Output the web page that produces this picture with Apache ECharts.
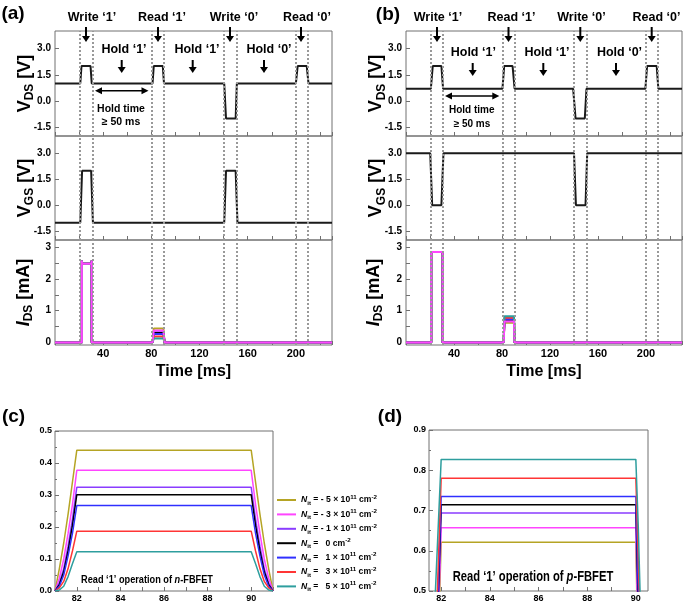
<!DOCTYPE html>
<html><head><meta charset="utf-8">
<script src="https://cdn.jsdelivr.net/npm/echarts@6/dist/echarts.min.js"></script>
<style>html,body{margin:0;padding:0;background:#fff}#c{width:685px;height:603px}</style>
</head><body><div id="c"></div>
<script>
// ---------------- data ----------------
const timeLabels = [40, 80, 120, 160, 200];
const dottedTimes = [20.5, 31, 80.5, 90.5, 140, 150.5, 199.5, 210];

const vdsA_t = [0, 21, 22, 29.5, 30.5, 81, 82, 89.5, 90.5, 140.5, 142, 150, 151, 200, 201.5, 209, 210.5, 230];
const vdsA_v = [1, 1, 2, 2, 1, 1, 2, 2, 1, 1, -1, -1, 1, 1, 2, 2, 1, 1];
const vgsA_t = [0, 21, 22.5, 30, 31.5, 140.5, 142, 150, 151.5, 230];
const vgsA_v = [-1, -1, 2, 2, -1, -1, 2, 2, -1, -1];

const vdsB_t = [0, 20.7, 22.3, 29.5, 30.9, 80.4, 81.8, 88.8, 90.5, 139.3, 141.3, 149, 150.4, 199.5, 200.9, 208.9, 210.3, 230];
const vdsB_v = [0.7, 0.7, 2, 2, 0.7, 0.7, 2, 2, 0.7, 0.7, -1, -1, 0.7, 0.7, 2, 2, 0.7, 0.7];
const vgsB_t = [0, 20.2, 21.8, 29.5, 31.2, 140, 141.6, 149.6, 151, 230];
const vgsB_v = [3, 3, 0, 0, 3, 3, 0, 0, 3, 3];

const vLabels = [-1.5, 0, 1.5, 3];
const iLabels = [0, 1, 2, 3];
const iTicks = [0, 0.5, 1, 1.5, 2, 2.5, 3];

const writeA_t = [0, 22.3, 22.3, 22.4, 30.4, 30.5, 30.5];
const writeA_v = [0, 0, 2.58, 2.48, 2.48, 2.58, 0];
const writeB_t = [0, 21.0, 21.0, 30.5, 30.5];
const writeB_v = [0, 0, 2.85, 2.85, 0];
const endT = 230;

const nitKeys = ['m5', 'm3', 'm1', 'z0', 'p1', 'p3', 'p5'];
const nitColors = ['#b5a424', '#ff45ff', '#8a3cff', '#000000', '#3030ff', '#ff3535', '#2e9e9e'];
const nitPre = ['- 5 × 10', '- 3 × 10', '- 1 × 10', '  0', '  1 × 10', '  3 × 10', '  5 × 10'];
const nitExp = ['11', '11', '11', '', '11', '11', '11'];

const readTimesC = [81.0, 81.2, 81.4, 81.6, 81.8, 82.0, 90.0, 90.2, 90.4, 90.6, 90.8, 91.0];
const readC_m5 = [0, 0.07, 0.15, 0.24, 0.34, 0.44, 0.44, 0.34, 0.24, 0.15, 0.07, 0];
const readC_m3 = [0, 0.04, 0.10, 0.18, 0.27, 0.377, 0.377, 0.27, 0.18, 0.10, 0.04, 0];
const readC_m1 = [0, 0.025, 0.07, 0.14, 0.225, 0.324, 0.324, 0.225, 0.14, 0.07, 0.025, 0];
const readC_z0 = [0, 0.02, 0.06, 0.125, 0.205, 0.301, 0.301, 0.205, 0.125, 0.06, 0.02, 0];
const readC_p1 = [0, 0.015, 0.05, 0.11, 0.18, 0.267, 0.267, 0.18, 0.11, 0.05, 0.015, 0];
const readC_p3 = [0, 0.01, 0.03, 0.07, 0.125, 0.187, 0.187, 0.125, 0.07, 0.03, 0.01, 0];
const readC_p5 = [0, 0.003, 0.015, 0.045, 0.085, 0.123, 0.123, 0.085, 0.045, 0.015, 0.003, 0];

const readTimesD = [81.4, 81.8, 82.0, 90.0, 90.1, 90.4];
const readD_m5 = [0, 0.20, 0.621, 0.621, 0.30, 0];
const readD_m3 = [0, 0.25, 0.657, 0.657, 0.36, 0];
const readD_m1 = [0, 0.30, 0.694, 0.694, 0.42, 0];
const readD_z0 = [0, 0.33, 0.714, 0.714, 0.46, 0];
const readD_p1 = [0, 0.36, 0.735, 0.735, 0.50, 0];
const readD_p3 = [0, 0.42, 0.78, 0.78, 0.58, 0];
const readD_p5 = [0, 0.55, 0.827, 0.827, 0.66, 0];

// points of the read pulse kept in the 230 ms overview panels (start, top start, top end, end)
const overviewIdxC = [0, 5, 6, 11];
const overviewIdxD = [0, 2, 3, 5];

const cLabels = [82, 84, 86, 88, 90];
const cTicks = [81, 82, 83, 84, 85, 86, 87, 88, 89, 90, 91];
const dLabels = [82, 84, 86, 88, 90];
const dTicks = [82, 83, 84, 85, 86, 87, 88, 89, 90];

// ---------------- build ----------------
const readC = [readC_m5, readC_m3, readC_m1, readC_z0, readC_p1, readC_p3, readC_p5];
const readD = [readD_m5, readD_m3, readD_m1, readD_z0, readD_p1, readD_p3, readD_p5];
const FONT = '"Liberation Sans", Arial, sans-serif';
const GRAY = '#707070';
const xy = (ts, vs) => ts.map((t, i) => [t, vs[i]]);
const pick = (arr, idx) => idx.map(i => arr[i]);

const gridDefs = [
  {left: 55, top: 31, width: 277, height: 105},
  {left: 55, top: 136, width: 277, height: 104},
  {left: 55, top: 240, width: 277, height: 105},
  {left: 406, top: 31, width: 276, height: 105},
  {left: 406, top: 136, width: 276, height: 104},
  {left: 406, top: 240, width: 276, height: 105},
  {left: 55, top: 431, width: 218, height: 160},
  {left: 429, top: 430, width: 219, height: 161}
].map(g => Object.assign({show: true, borderColor: GRAY, borderWidth: 1, backgroundColor: 'transparent'}, g));

const tickStyle = {show: true, inside: true, length: 4, lineStyle: {color: GRAY, width: 1}};
const noLine = {show: false, onZero: false};
const lblStyle = (size) => ({color: '#000', fontWeight: 'bold', fontSize: size, fontFamily: FONT});

const xAxes = [];
for (let g = 0; g < 6; g++) {
  const bottom = (g === 2 || g === 5);
  xAxes.push({
    type: 'value', gridIndex: g, min: 0, max: 230, interval: 20, position: 'bottom',
    axisLine: noLine, splitLine: {show: false},
    axisTick: tickStyle,
    axisLabel: Object.assign({show: bottom, customValues: timeLabels, margin: 3}, lblStyle(11)),
    name: bottom ? 'Time [ms]' : '', nameLocation: 'middle', nameGap: 19,
    nameTextStyle: {color: '#000', fontWeight: 'bold', fontSize: 16, fontFamily: FONT}
  });
}
xAxes.push({
  type: 'value', gridIndex: 6, min: 81, max: 91, position: 'bottom',
  axisLine: noLine, splitLine: {show: false},
  axisTick: Object.assign({customValues: cTicks}, tickStyle),
  axisLabel: Object.assign({customValues: cLabels, margin: 3}, lblStyle(9))
});
xAxes.push({
  type: 'value', gridIndex: 7, min: 81.5, max: 90.5, position: 'bottom',
  axisLine: noLine, splitLine: {show: false},
  axisTick: Object.assign({customValues: dTicks}, tickStyle),
  axisLabel: Object.assign({customValues: dLabels, margin: 3}, lblStyle(9))
});

function yAB(g, kind) {
  const isI = kind === 'I';
  return {
    type: 'value', gridIndex: g, position: 'left',
    min: isI ? -0.08 : -2, max: isI ? 3.23 : 4,
    axisLine: noLine, splitLine: {show: false},
    axisTick: Object.assign({customValues: isI ? iTicks : vLabels}, tickStyle),
    axisLabel: Object.assign({customValues: isI ? iLabels : vLabels, margin: 4,
      formatter: v => isI ? String(v) : v.toFixed(1)}, lblStyle(10))
  };
}
const yAxes = [
  yAB(0, 'VDS'), yAB(1, 'VGS'), yAB(2, 'I'),
  yAB(3, 'VDS'), yAB(4, 'VGS'), yAB(5, 'I'),
  {type: 'value', gridIndex: 6, min: 0, max: 0.5, interval: 0.1, position: 'left',
   axisLine: noLine, splitLine: {show: false},
   axisTick: tickStyle, minorTick: {show: true, splitNumber: 2, length: 2, lineStyle: {color: GRAY}},
   axisLabel: Object.assign({formatter: v => v.toFixed(1), margin: 3}, lblStyle(9))},
  {type: 'value', gridIndex: 7, min: 0.5, max: 0.9, interval: 0.1, position: 'left',
   axisLine: noLine, splitLine: {show: false},
   axisTick: tickStyle, minorTick: {show: true, splitNumber: 2, length: 2, lineStyle: {color: GRAY}},
   axisLabel: Object.assign({formatter: v => v.toFixed(1), margin: 3}, lblStyle(9))}
];

const dotted = {
  silent: true, symbol: ['none', 'none'], animation: false,
  label: {show: false},
  lineStyle: {type: [2, 2], width: 2, color: '#999999'},
  emphasis: {disabled: true},
  data: dottedTimes.map(t => ({xAxis: t}))
};

const series = [];
function line(name, g, data, color, width, extra) {
  return Object.assign({
    type: 'line', name, xAxisIndex: g, yAxisIndex: g, data,
    showSymbol: false, symbol: 'none', animation: false,
    lineStyle: {color, width}, itemStyle: {color},
    emphasis: {disabled: true}
  }, extra || {});
}
series.push(line('vdsA', 0, xy(vdsA_t, vdsA_v), '#1a1a1a', 2, {markLine: dotted}));
series.push(line('vgsA', 1, xy(vgsA_t, vgsA_v), '#1a1a1a', 2, {markLine: dotted}));
series.push(line('vdsB', 3, xy(vdsB_t, vdsB_v), '#1a1a1a', 2, {markLine: dotted}));
series.push(line('vgsB', 4, xy(vgsB_t, vgsB_v), '#1a1a1a', 2, {markLine: dotted}));

// IDS in (a) and (b): magenta drawn last
const idsOrder = [0, 2, 3, 4, 5, 6, 1];
idsOrder.forEach((k, j) => {
  const dataA = xy(writeA_t, writeA_v).concat(
    xy(pick(readTimesC, overviewIdxC), pick(readC[k], overviewIdxC)), [[endT, 0]]);
  const dataB = xy(writeB_t, writeB_v).concat(
    xy(pick(readTimesD, overviewIdxD), pick(readD[k], overviewIdxD)), [[endT, 0]]);
  series.push(line(nitKeys[k], 2, dataA, nitColors[k], 2, j === 0 ? {markLine: dotted} : {}));
  series.push(line(nitKeys[k], 5, dataB, nitColors[k], 2, j === 0 ? {markLine: dotted} : {}));
});
nitKeys.forEach((key, k) => {
  series.push(line(key, 6, xy(readTimesC, readC[k]), nitColors[k], 1.5));
});
nitKeys.forEach((key, k) => {
  series.push(line(key, 7, xy(readTimesD, readD[k]), nitColors[k], 1.5));
});

const legendText = {};
nitKeys.forEach((key, k) => {
  legendText[key] = '{n|N}{sb|it}{t| = ' + nitPre[k] + '}' +
    (nitExp[k] ? '{sp|' + nitExp[k] + '}' : '') + '{t| cm}{sp|-2}';
});

// ---------------- annotations ----------------
const g = [];
function txt(x, y, text, size, opts) {
  opts = opts || {};
  const el = {
    type: 'text', x, y, silent: true, scaleX: opts.scaleX || 1, rotation: opts.rotation || 0,
    style: {text, fill: '#000', font: 'bold ' + size + 'px ' + FONT,
      textAlign: opts.align || 'center', align: opts.align || 'center',
      textVerticalAlign: 'middle', verticalAlign: 'middle'}
  };
  if (opts.rich) el.style.rich = opts.rich;
  g.push(el);
}
function downArrow(x, y1, y2) {
  g.push({type: 'line', silent: true, shape: {x1: x, y1: y1, x2: x, y2: y2 - 4}, style: {stroke: '#000', lineWidth: 2}});
  g.push({type: 'polygon', silent: true, shape: {points: [[x - 4, y2 - 6], [x + 4, y2 - 6], [x, y2]]}, style: {fill: '#000'}});
}
function dblArrow(x1, x2, y) {
  g.push({type: 'line', silent: true, shape: {x1: x1 + 3, y1: y, x2: x2 - 3, y2: y}, style: {stroke: '#000', lineWidth: 1.6}});
  g.push({type: 'polygon', silent: true, shape: {points: [[x1, y], [x1 + 7, y - 3.5], [x1 + 7, y + 3.5]]}, style: {fill: '#000'}});
  g.push({type: 'polygon', silent: true, shape: {points: [[x2, y], [x2 - 7, y - 3.5], [x2 - 7, y + 3.5]]}, style: {fill: '#000'}});
}
// y-axis titles (rotated text)
const nameRich = {
  v: {fontSize: 18, fontWeight: 'bold', fontFamily: FONT, lineHeight: 22, fill: '#000', color: '#000'},
  i: {fontSize: 18, fontWeight: 'bold', fontStyle: 'italic', fontFamily: FONT, lineHeight: 22, fill: '#000', color: '#000'},
  s: {fontSize: 12, fontWeight: 'bold', fontFamily: FONT, lineHeight: 12, verticalAlign: 'bottom', fill: '#000', color: '#000'}
};
const ROT = {rotation: Math.PI / 2, rich: nameRich};
txt(25, 83.5, '{v|V}{s|DS}{v| [V]}', 18, ROT);
txt(25, 188, '{v|V}{s|GS}{v| [V]}', 18, ROT);
txt(24, 292.5, '{i|I}{s|DS}{v| [mA]}', 18, ROT);
txt(376.5, 83.5, '{v|V}{s|DS}{v| [V]}', 18, ROT);
txt(376.5, 188, '{v|V}{s|GS}{v| [V]}', 18, ROT);
txt(374, 292.5, '{i|I}{s|DS}{v| [mA]}', 18, ROT);

// panel labels
txt(13, 14, '(a)', 19);
txt(388, 14.5, '(b)', 19);
txt(13.5, 417, '(c)', 19);
txt(390, 417, '(d)', 19);

// panel (a)
txt(92, 17.5, 'Write ‘1’', 12.5);
txt(162, 17.5, 'Read ‘1’', 12.5);
txt(234, 17.5, 'Write ‘0’', 12.5);
txt(307, 17.5, 'Read ‘0’', 12.5);
[86, 158, 230, 301].forEach(x => downArrow(x, 27, 42));
txt(124, 50, 'Hold ‘1’', 12.5);
txt(197, 50, 'Hold ‘1’', 12.5);
txt(269, 50, 'Hold ‘0’', 12.5);
[121.7, 192.7, 264].forEach(x => downArrow(x, 60, 73));
dblArrow(95, 148.5, 90.7);
txt(121, 109.5, 'Hold time', 10.5);
txt(121, 122, '≥ 50 ms', 10.5);

// panel (b)
txt(438, 17.5, 'Write ‘1’', 12.5);
txt(511.5, 17.5, 'Read ‘1’', 12.5);
txt(581.5, 17.5, 'Write ‘0’', 12.5);
txt(656.5, 17.5, 'Read ‘0’', 12.5);
[437, 508.5, 580.3, 651.7].forEach(x => downArrow(x, 27, 42));
txt(473.3, 52.7, 'Hold ‘1’', 12.5);
txt(547, 52.7, 'Hold ‘1’', 12.5);
txt(619.5, 52.7, 'Hold ‘0’', 12.5);
[472.7, 543.3, 616].forEach(x => downArrow(x, 63, 76));
dblArrow(445, 499.3, 96);
txt(471.7, 110, 'Hold time', 10);
txt(472, 124.3, '≥ 50 ms', 10);

// panel (c)/(d) captions
const capRich = (size) => ({
  b: {fontSize: size, fontWeight: 'bold', fontFamily: FONT, fill: '#000', color: '#000'},
  i: {fontSize: size, fontWeight: 'bold', fontStyle: 'italic', fontFamily: FONT, fill: '#000', color: '#000'}
});
txt(147, 580, '{b|Read ‘1’ operation of }{i|n}{b|-FBFET}', 11.5, {scaleX: 0.8, rich: capRich(11.5)});
txt(533, 577, '{b|Read ‘1’ operation of }{i|p}{b|-FBFET}', 14, {scaleX: 0.8, rich: capRich(14)});

const option = {
  animation: false,
  backgroundColor: '#fff',
  textStyle: {fontFamily: FONT},
  grid: gridDefs,
  xAxis: xAxes,
  yAxis: yAxes,
  legend: {
    data: nitKeys, orient: 'vertical', left: 277, top: 494, padding: 0,
    icon: 'rect', itemWidth: 19, itemHeight: 2, itemGap: 2.4, itemTextGap: 4,
    selectedMode: false,
    formatter: name => legendText[name],
    textStyle: {
      color: '#000', fontFamily: FONT, fontWeight: 'bold', fontSize: 8.6,
      rich: {
        n: {fontSize: 8.6, fontWeight: 'bold', fontStyle: 'italic', fontFamily: FONT, lineHeight: 12, color: '#000'},
        t: {fontSize: 8.6, fontWeight: 'bold', fontFamily: FONT, lineHeight: 12, color: '#000'},
        sb: {fontSize: 6.2, fontWeight: 'bold', fontFamily: FONT, lineHeight: 7, verticalAlign: 'bottom', color: '#000'},
        sp: {fontSize: 6.2, fontWeight: 'bold', fontFamily: FONT, lineHeight: 7, verticalAlign: 'top', color: '#000'}
      }
    }
  },
  series,
  graphic: {elements: g}
};
const chart = echarts.init(document.getElementById('c'));
chart.setOption(option);
</script>
</body></html>
